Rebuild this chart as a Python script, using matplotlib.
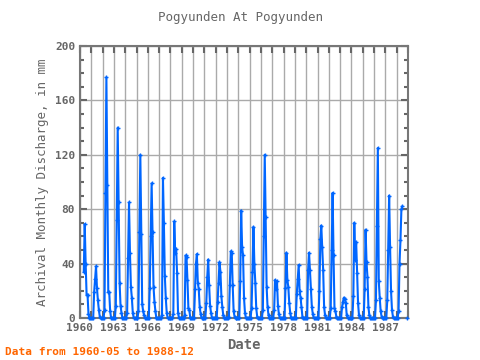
import numpy as np
import matplotlib
matplotlib.use('Agg')
import matplotlib.pyplot as plt
from matplotlib.ticker import MultipleLocator, FuncFormatter

nan = np.nan

##
#   Monthly discharge (mm), starting 1960-05
first_month = 1960 + 4 / 12.0
discharge_1960s = [
    34, 69, 40, 17, 17, 3, 0, 0,                      # 1960 May..Dec
    0, 0, 0, 19, 29, 38, 22, 13, 6, 1, 0, 0,          # 1961
    0, 0, 6, 92, 177, 98, 19, 19, 5, 0, 0, 0,         # 1962
    0, 0, 9, 72, 140, 85, 26, 9, 4, 0, 0, 0,          # 1963
    0, 0, 4, 44, 85, 48, 23, 15, 4, 0, 0, 0,          # 1964
    0, 0, 5, 63, 120, 62, 10, 5, 2, 0, 0, 0,          # 1965
    0, 0, 22, 60, 99, 63, 23, 12, 5, 0, 0, 0,         # 1966
    0, 0, 0, 2, 103, 70, 31, 15, 4, 0, 0, 0,          # 1967
    0, 0, 0, 3, 71, 48, 51, 33, 4, 0, 0, 0,           # 1968
    0, 0, 0, 2, 46, 45, 28, 7, 6, 0, 0, 0,            # 1969
]
discharge_1970s = [
    0, 0, 21, 40, 47, 26, 21, 8, 3, 0, 0, 0,          # 1970
    0, 0, 11, 30, 43, 24, 9, 4, 0, 0, 0, 0,           # 1971
    0, 0, 12, 26, 41, 34, 16, 8, 2, 0, 0, 0,          # 1972
    0, 0, 1, 24, 49, 48, 24, 5, 1, 0, 0, 0,           # 1973
    0, 0, 27, 79, 52, 46, 15, 4, 0, 0, 0, 0,          # 1974
    0, 0, 7, 34, 67, 40, 26, 7, 1, 0, 0, 0,           # 1975
    0, 0, 6, 60, 120, 74, 23, 8, 2, 0, 0, 0,          # 1976
    0, 0, 6, 28, 21, 27, 9, 3, 0, 0, 0, 0,            # 1977
    0, 0, 22, 48, 28, 23, 11, 4, 0, 0, 0, 0,          # 1978
    0, 0, 18, 29, 39, 20, 15, 8, 1, 0, 0, 0,          # 1979
]
discharge_1980s = [
    0, 0, 35, 48, 35, 21, 8, 3, 0, 0, 0, 0,           # 1980
    0, 0, 20, 58, 68, 52, 35, 8, 2, 0, 0, 0,          # 1981
    0, 0, 7, 50, 92, 46, 7, 5, 1, 0, 0, 0,            # 1982
    0, 0, 8, 12, 15, 14, 11, 2, 0, 0, 0, 0,           # 1983
    0, 0, 16, 70, 43, 56, 33, 11, 2, 0, 0, 0,         # 1984
    0, 0, 21, 65, 41, 30, 8, 2, 0, 0, 0, 0,           # 1985
    0, 0, 13, 68, 125, 27, 15, 5, 1, 0, 0, 0,         # 1986
    0, 0, 13, 50, 90, 52, 20, 6, 1, 0, 0, 0,          # 1987
    0, 0, 5, 40, 57, 80, 82, nan, nan, nan, nan, 0,   # 1988
]

title = 'Pogyunden At Pogyunden'
ylabel = 'Archival Monthly Discharge, in mm'
xlabel = 'Date'
footer = 'Data from 1960-05 to 1988-12'

Q = np.array(discharge_1960s + discharge_1970s + discharge_1980s, dtype=float)
X = first_month + np.arange(np.size(Q)) / 12.0

plt.rcParams['font.family'] = ['DejaVu Sans Mono']
grey = '#666666'

fig = plt.figure(figsize=(4.8, 3.6), dpi=100)
ax = fig.add_axes([80/480, 42/360, 328/480, 272/360])

ax.plot(X, Q, color='#0066ff', lw=1.5, marker='+', ms=3, mew=1.0,
        clip_on=False, zorder=3)

ax.set_xlim(1960, 1989)
ax.set_ylim(0, 200)

#   year grid, label every third year
ax.xaxis.set_major_locator(MultipleLocator(1))
ax.xaxis.set_major_formatter(FuncFormatter(
    lambda v, p: '%d' % round(v) if (round(v) - 1960) % 3 == 0 else ''))
ax.yaxis.set_major_locator(MultipleLocator(40))
ax.yaxis.set_minor_locator(MultipleLocator(10))
ax.grid(True, which='major', color='#aaaaaa', lw=1)
ax.set_axisbelow(True)

ax.tick_params(which='both', direction='in', top=True, right=True,
               color=grey, labelcolor=grey, labelsize=8, width=1.5)
ax.tick_params(which='major', length=5)
ax.tick_params(which='minor', length=3)
for lab in ax.get_xticklabels() + ax.get_yticklabels():
    lab.set_fontweight('bold')
for s in ax.spines.values():
    s.set_color('#777777')
    s.set_linewidth(1.5)

ax.set_ylabel(ylabel, color=grey, fontsize=9)
ax.set_xlabel(xlabel, color=grey, fontsize=10, fontweight='bold', labelpad=4)
fig.text(0.5, 0.95, title, ha='center', va='center', color=grey, fontsize=9)
fig.text(0.01, 0.022, footer, ha='left', va='center', color='#ff6600',
         fontsize=8, fontweight='bold')

fig.savefig('out.png', dpi=100)
